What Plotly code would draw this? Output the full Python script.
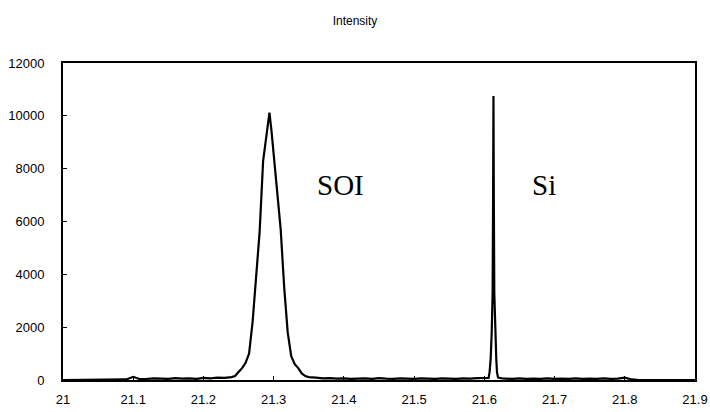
import plotly.graph_objects as go

# 2theta positions (deg) and intensity (counts)
x_vals = [21.00, 21.02, 21.04, 21.06, 21.08, 21.09, 21.10, 21.11, 21.12, 21.13, 21.14, 21.15,
          21.16, 21.17, 21.18, 21.19, 21.20, 21.21, 21.22, 21.23, 21.24, 21.245, 21.25,
          21.255, 21.26, 21.265, 21.27, 21.275, 21.28, 21.285, 21.29, 21.294, 21.297,
          21.30, 21.305, 21.31, 21.315, 21.32, 21.325, 21.33, 21.335, 21.34, 21.345,
          21.35, 21.36, 21.37, 21.38, 21.39, 21.40, 21.41, 21.42, 21.43, 21.44, 21.45,
          21.46, 21.47, 21.48, 21.49, 21.50, 21.51, 21.52, 21.53, 21.54, 21.55, 21.56,
          21.57, 21.58, 21.59, 21.60, 21.606, 21.6075, 21.609, 21.6105, 21.6118,
          21.6125, 21.613, 21.6135, 21.6142, 21.6155, 21.617, 21.618, 21.6195, 21.625,
          21.63, 21.64, 21.65, 21.66, 21.67, 21.68, 21.69, 21.70, 21.71, 21.72, 21.73,
          21.74, 21.75, 21.76, 21.77, 21.78, 21.79, 21.80, 21.81, 21.82, 21.84, 21.86,
          21.88, 21.90]
intensity = [0, 0, 0, 0, 0, 20, 120, 30, 40, 60, 50, 40,
             70, 50, 60, 40, 80, 60, 90, 80, 110, 150, 300,
             450, 650, 1000, 2200, 3900, 5600, 8300, 9300, 10120, 9400,
             8500, 7200, 5700, 3500, 1800, 900, 600, 450, 250, 150,
             110, 90, 60, 70, 50, 60, 40, 50, 60, 40, 70,
             50, 40, 60, 50, 40, 60, 50, 40, 60, 50, 40,
             60, 50, 70, 60, 80, 300, 800, 1800, 3300,
             7000, 10750, 7000, 3300, 1800, 800, 300, 90, 60,
             50, 40, 60, 40, 50, 40, 60, 40, 50, 40, 60,
             40, 50, 40, 60, 40, 50, 90, 20, 0, 0, 0,
             0, 0]

x_ticks = [21.0, 21.1, 21.2, 21.3, 21.4, 21.5, 21.6, 21.7, 21.8, 21.9]
x_tick_labels = ["21", "21.1", "21.2", "21.3", "21.4", "21.5", "21.6", "21.7", "21.8", "21.9"]
y_ticks = [0, 2000, 4000, 6000, 8000, 10000, 12000]
y_tick_labels = ["0", "2000", "4000", "6000", "8000", "10000", "12000"]

peak_labels = ["SOI", "Si"]
peak_label_x = [21.3945, 21.685]
peak_label_y = [7400, 7400]

fig = go.Figure()
fig.add_trace(go.Scatter(x=x_vals, y=intensity, mode="lines",
                         line=dict(color="black", width=2.2), showlegend=False))

for t, lx, ly in zip(peak_labels, peak_label_x, peak_label_y):
    fig.add_annotation(x=lx, y=ly, text=t, showarrow=False,
                       font=dict(family="Liberation Serif", size=29, color="black"))

fig.update_layout(
    width=710, height=412,
    margin=dict(l=63, r=15, t=63, b=32, autoexpand=False),
    paper_bgcolor="white", plot_bgcolor="white",
    title=dict(text="Intensity", x=0.5, xanchor="center", y=0.95, yanchor="middle",
               font=dict(family="Liberation Sans", size=12, color="black")),
    font=dict(family="Liberation Sans", size=13, color="black"),
)
fig.update_xaxes(range=[21.0, 21.9], tickvals=x_ticks, ticktext=x_tick_labels,
                 ticks="inside", ticklen=4, tickcolor="black", tickwidth=1,
                 showline=True, linecolor="black", linewidth=2, mirror=True,
                 showgrid=False, zeroline=False, ticklabelstandoff=6, automargin=False)
fig.update_yaxes(range=[0, 12000], tickvals=y_ticks, ticktext=y_tick_labels,
                 ticks="inside", ticklen=4, tickcolor="black", tickwidth=1,
                 showline=True, linecolor="black", linewidth=2, mirror=True,
                 showgrid=False, zeroline=False, ticklabelstandoff=14, automargin=False)

fig.write_html("out.html")
